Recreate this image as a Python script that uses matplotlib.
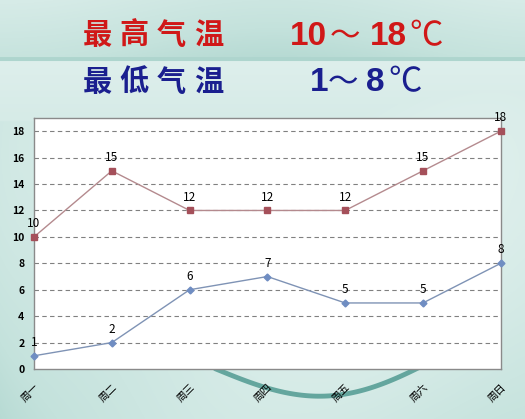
import numpy as np
import matplotlib.pyplot as plt
from matplotlib.colors import LinearSegmentedColormap

plt.rcParams['font.family'] = ['Noto Sans CJK SC', 'DejaVu Sans']

days = ['周一', '周二', '周三', '周四', '周五', '周六', '周日']
high = [10, 15, 12, 12, 12, 15, 18]
low = [1, 2, 6, 7, 5, 5, 8]
yticks = [0, 2, 4, 6, 8, 10, 12, 14, 16, 18]

fig = plt.figure(figsize=(5.25, 4.19), dpi=100)

# background: teal gradient with a lighter band under the title
bg = fig.add_axes([0, 0, 1, 1], zorder=-10)
bg.set_axis_off()
yy = np.linspace(0, 1, 419)[:, None]
xx = np.linspace(0, 1, 525)[None, :]
val = 0.6 + 0.2 * np.sin(yy * 3.0) + 0.1 * np.cos(xx * 6 + yy * 3) - 0.15 * np.exp(-xx * 12)
val[:58] = 0.4 + 0.3 * np.linspace(1, 0.2, 58)[:, None] + 0.08 * np.cos(xx * 6)
val[58:62] = 0.3
band = 0.88 - 0.12 * np.linspace(0, 1, 60)[:, None]
val[62:122] = np.maximum(band, val[62:122])
cmap = LinearSegmentedColormap.from_list('bg', ['#8fc3ba', '#c4e2dc', '#e6f3f1'])
bg.imshow(val, cmap=cmap, aspect='auto', extent=[0, 1, 0, 1], vmin=0, vmax=1)
# dark swoosh behind the chart
t = np.linspace(0, 1, 100)
bg.plot(0.41 + 0.43 * t, 0.12 - 0.08 * np.sin(np.pi * t) + 0.03 * t,
        color='#3f8f86', lw=3.5, alpha=0.75, solid_capstyle='round')
bg.set_xlim(0, 1)
bg.set_ylim(0, 1)

# title lines
char_x = [0.185, 0.256, 0.326, 0.397]
for cx, ch in zip(char_x, '最高气温'):
    fig.text(cx, 0.916, ch, color='#d01818', fontsize=21, fontweight='heavy',
             ha='center', va='center')
for cx, ch in zip(char_x, '最低气温'):
    fig.text(cx, 0.805, ch, color='#1a1f8f', fontsize=21, fontweight='heavy',
             ha='center', va='center')
num_font = ['Liberation Sans', 'Noto Sans CJK SC']
fig.text(0.553, 0.912, '10', color='#d01818', fontsize=24, fontweight='bold',
         family=num_font, ha='left', va='center')
fig.text(0.628, 0.912, '～', color='#d01818', fontsize=22, family=num_font,
         ha='left', va='center')
fig.text(0.705, 0.912, '18', color='#d01818', fontsize=24, fontweight='bold',
         family=num_font, ha='left', va='center')
fig.text(0.780, 0.912, '℃', color='#d01818', fontsize=24, family=num_font,
         ha='left', va='center')
fig.text(0.590, 0.803, '1', color='#1a1f8f', fontsize=24, fontweight='bold',
         family=num_font, ha='left', va='center')
fig.text(0.625, 0.803, '～', color='#1a1f8f', fontsize=22, family=num_font,
         ha='left', va='center')
fig.text(0.698, 0.803, '8', color='#1a1f8f', fontsize=24, fontweight='bold',
         family=num_font, ha='left', va='center')
fig.text(0.740, 0.803, '℃', color='#1a1f8f', fontsize=24, family=num_font,
         ha='left', va='center')

ax = fig.add_axes([0.0648, 0.1193, 0.889, 0.5991])
ax.set_facecolor('white')
x = np.arange(len(days))
ax.plot(x, high, color='#b48a8e', lw=1, marker='s', ms=5,
        mfc='#a5505a', mec='#a5505a', zorder=3, clip_on=False)
ax.plot(x, low, color='#7f93b5', lw=1, marker='D', ms=3.5,
        mfc='#6f8dc2', mec='#6f8dc2', zorder=3, clip_on=False)
for i in x:
    ax.annotate(str(high[i]), (i, high[i]), xytext=(0, 5), textcoords='offset points',
                ha='center', va='bottom', fontsize=8.5, color='black')
    ax.annotate(str(low[i]), (i, low[i]), xytext=(0, 5), textcoords='offset points',
                ha='center', va='bottom', fontsize=8.5, color='black')

ax.set_xlim(0, 6)
ax.set_ylim(0, 19)
ax.set_yticks(yticks)
ax.set_yticklabels([str(v) for v in yticks], fontsize=7.5, fontweight='bold')
ax.set_xticks(x)
ax.set_xticklabels(days, fontsize=7.5, rotation=45, ha='right', va='top',
                   rotation_mode='anchor')
ax.tick_params(length=0, pad=7)
ax.tick_params(axis='x', pad=9)
for v in yticks[1:]:
    ax.axhline(v, color='#808080', lw=0.8, ls=(0, (4, 3)), zorder=1)
for s in ax.spines.values():
    s.set_color('#8a8a8a')
    s.set_linewidth(1)

fig.savefig('out.png', dpi=100)
